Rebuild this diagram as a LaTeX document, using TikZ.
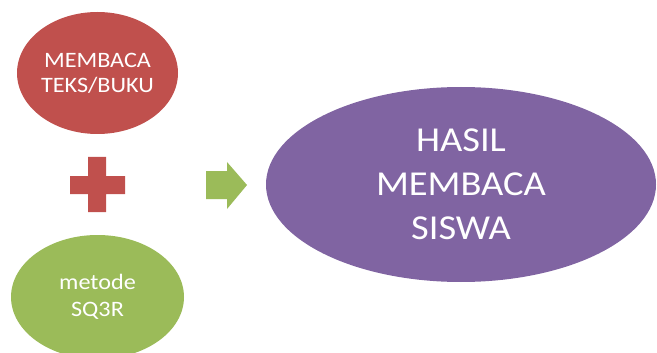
\documentclass[tikz,border=0pt]{standalone}
\usepackage{fontspec}
\setmainfont{Carlito}
\newfontfamily\widefont[FakeStretch=1.1]{Carlito}
\usepackage{tikz}
\usetikzlibrary{shapes.geometric,positioning}
\definecolor{bacared}{HTML}{C0504D}
\definecolor{bacagreen}{HTML}{9BBB59}
\definecolor{bacapurple}{HTML}{8064A2}

\begin{document}
\begin{tikzpicture}[x=1pt,y=-1pt,
    blob/.style={ellipse,inner sep=0pt,outer sep=0pt,text=white,align=center}]
  \useasboundingbox (0,0) rectangle (657,353);
  \node[blob,fill=bacared,minimum width=161pt,minimum height=122pt,
        font=\widefont\fontsize{22}{25}\selectfont] (teks) at (97.5,73) {MEMBACA\\TEKS/BUKU};
  \node[blob,fill=bacagreen,minimum width=173pt,minimum height=124pt,
        font=\widefont\fontsize{22}{27}\selectfont] (sq3r) at (97.5,297) {metode\\SQ3R};
  \node[blob,fill=bacapurple,minimum width=390pt,minimum height=195pt,
        font=\widefont\fontsize{35}{44}\selectfont] (hasil) at (461,184.5) {HASIL\\MEMBACA\\SISWA};
  % plus and arrow
  \fill[bacared] (88,157) -- (106,157) -- (106,176) -- (125,176) -- (125,194) -- (106,194)
    -- (106,212) -- (88,212) -- (88,194) -- (70,194) -- (70,176) -- (88,176) -- cycle;
  \fill[bacagreen] (206,171) -- (227,171) -- (227,162) -- (247,185) -- (227,209)
    -- (227,199) -- (206,199) -- cycle;
\end{tikzpicture}
\end{document}
